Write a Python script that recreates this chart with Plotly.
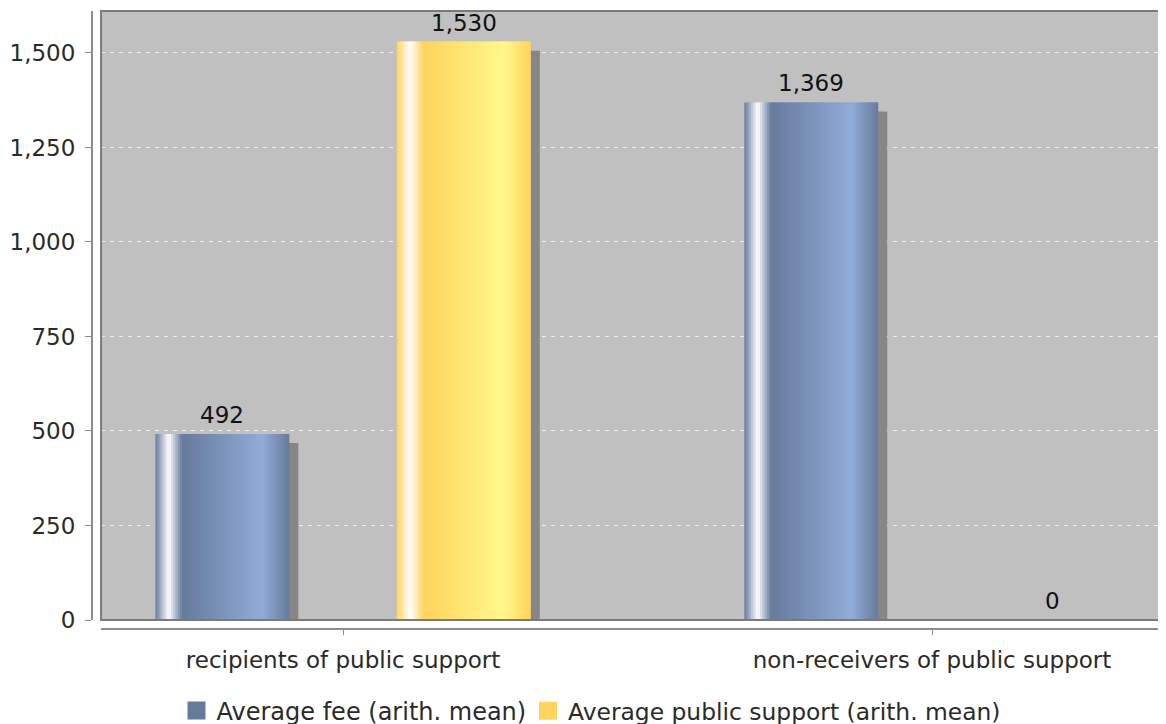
import plotly.graph_objects as go

# ---------------- data ----------------
categories = ["recipients of public support", "non-receivers of public support"]
series_names = ["Average fee (arith. mean)", "Average public support (arith. mean)"]
avg_fee = [492, 1369]
avg_support = [1530, 0]
fee_labels = ["492", "1,369"]
support_labels = ["1,530", "0"]
y_tick_vals = [0, 250, 500, 750, 1000, 1250, 1500]
y_tick_text = ["0", "250", "500", "750", "1,000", "1,250", "1,500"]

# ---------------- style ----------------
FONT = "DejaVu Sans"
TXT = "#2a2a2a"
blue_c0 = (102, 122, 156)
blue_c1 = (145, 172, 216)
yel_c0 = (255, 212, 92)
yel_c1 = (255, 248, 138)
shadow_col = "#868686"

bar_w = 0.2275          # bar width in category units
centers = [-0.205, 0.205]
shadow_dx = 0.0153      # ~9 px
shadow_dy = 24          # ~9 px in value units
N = 60                  # gradient strips per bar

x_idx = list(range(len(categories)))


def mix(a, b, t):
    return tuple(round(a[k] + (b[k] - a[k]) * t) for k in range(3))


def grad(f, c0, c1):
    white = (255, 255, 255)
    if f < 0.1:
        c = mix(c0, white, f / 0.1)
    elif f < 0.2:
        c = mix(white, c0, (f - 0.1) / 0.1)
    elif f < 0.8:
        c = mix(c0, c1, (f - 0.2) / 0.6)
    else:
        c = mix(c1, c0, (f - 0.8) / 0.2)
    return "rgb(%d,%d,%d)" % c


fig = go.Figure()

series = [
    (avg_fee, blue_c0, blue_c1, centers[0]),
    (avg_support, yel_c0, yel_c1, centers[1]),
]

for vals, c0, c1, ctr in series:
    left = ctr - bar_w / 2
    # shadow
    fig.add_trace(go.Bar(
        x=x_idx, y=vals, base=-shadow_dy, offset=left + shadow_dx, width=bar_w,
        marker=dict(color=shadow_col, line=dict(width=0)),
        showlegend=False, hoverinfo="skip"))
    step = bar_w / N
    for i in range(N):
        f = (i + 0.5) / N
        w = min(step * 1.8, bar_w - i * step)
        fig.add_trace(go.Bar(
            x=x_idx, y=vals, offset=left + i * step, width=w,
            marker=dict(color=grad(f, c0, c1), line=dict(width=0)),
            showlegend=False, hoverinfo="skip"))

# legend entries (one legend box per series so spacing matches)
for name, c0, lg in zip(series_names, [blue_c0, yel_c0], ["legend", "legend2"]):
    col = "rgb(%d,%d,%d)" % c0
    fig.add_trace(go.Scatter(
        x=[None], y=[None], mode="markers", name=name, legend=lg,
        marker=dict(symbol="square", size=16, color=col,
                    line=dict(color=col, width=2))))

# value labels
annotations = []
for vals, labels, ctr in [(avg_fee, fee_labels, centers[0]),
                          (avg_support, support_labels, centers[1])]:
    for i, (v, t) in enumerate(zip(vals, labels)):
        annotations.append(dict(
            x=i + ctr, y=v, xref="x", yref="y", text=t, showarrow=False,
            yanchor="middle", xanchor="center", yshift=19,
            font=dict(family=FONT, size=23, color="#111111")))

legend_common = dict(orientation="h", xref="container", yref="container",
                     xanchor="left", y=0.029, yanchor="middle",
                     bgcolor="rgba(0,0,0,0)", itemclick=False)

# page body has an 8px margin: plot area spans screen x 101..1174, y 11..620
fig.update_layout(
    width=1166, height=724,
    margin=dict(l=84, r=0, t=3, b=103),
    paper_bgcolor="white", plot_bgcolor="#c0c0c0",
    barmode="overlay",
    font=dict(family=FONT, size=23, color=TXT),
    annotations=annotations,
    showlegend=True,
    legend=dict(x=0.1445, font=dict(family=FONT, size=24, color=TXT),
                **legend_common),
    legend2=dict(x=0.446, font=dict(family=FONT, size=23.4, color=TXT),
                 **legend_common),
    xaxis=dict(
        domain=[0.00838, 1], anchor="free", position=0,
        range=[-0.4109, 1.4109], tickmode="array", tickvals=x_idx,
        ticktext=categories, showgrid=False, zeroline=False,
        showline=True, linecolor="#8c8c8c", linewidth=2,
        ticks="outside", ticklen=5, tickcolor="#8c8c8c", tickwidth=1,
        ticklabelstandoff=5,
        tickfont=dict(family=FONT, size=23, color=TXT)),
    yaxis=dict(
        domain=[0.01456, 1], anchor="free", position=0,
        range=[0, 1611], tickmode="array", tickvals=y_tick_vals,
        ticktext=y_tick_text, showgrid=True, gridcolor="#efefef",
        griddash="4px,5px", gridwidth=1, zeroline=False,
        showline=True, linecolor="#8c8c8c", linewidth=2,
        ticks="outside", ticklen=6, tickcolor="#8c8c8c", tickwidth=1,
        ticklabelstandoff=5,
        tickfont=dict(family=FONT, size=23, color=TXT)),
    shapes=[dict(type="rect", xref="x domain", yref="y domain",
                 x0=0, x1=1.05, y0=0, y1=1,
                 line=dict(color="#7a7a7a", width=2), layer="above")],
)

fig.write_html("out.html")
